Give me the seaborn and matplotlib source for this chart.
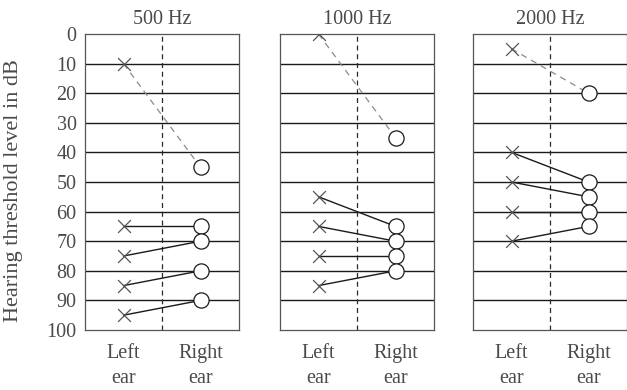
import matplotlib
matplotlib.use("Agg")
import matplotlib.pyplot as plt
import seaborn as sns
import pandas as pd

sns.set_theme(style="white")
plt.rcParams["font.family"] = ["Liberation Serif", "DejaVu Serif"]

freqs = ["500 Hz", "1000 Hz", "2000 Hz"]
left_500 = [10, 65, 75, 85, 95]
right_500 = [45, 65, 70, 80, 90]
left_1000 = [0, 55, 65, 75, 85]
right_1000 = [35, 65, 70, 75, 80]
left_2000 = [5, 40, 50, 60, 70]
right_2000 = [20, 50, 55, 60, 65]
ear_labels = ["Left\near", "Right\near"]
y_ticks = list(range(0, 101, 10))

lefts = [left_500, left_1000, left_2000]
rights = [right_500, right_1000, right_2000]

fig = plt.figure(figsize=(6.27, 3.9), dpi=100)
bottom, height = 1 - 330 / 390, (330 - 34) / 390
lefts_px = [85, 280, 473]
width_px = 154

fs = 14.5
text_col = "#4a4a4a"
for i, freq in enumerate(freqs):
    ax = fig.add_axes([lefts_px[i] / 627, bottom, width_px / 627, height])
    rows = []
    for k, (l, r) in enumerate(zip(lefts[i], rights[i])):
        rows.append({"pair": k, "ear": 0, "db": l})
        rows.append({"pair": k, "ear": 1, "db": r})
    df = pd.DataFrame(rows)
    # grid lines
    for yv in y_ticks[1:-1]:
        ax.axhline(yv, color="#1a1a1a", lw=1.0, zorder=1)
    ax.axvline(0.5, color="#2a2a2a", lw=0.9, ls=(0, (4, 3)), zorder=1)
    for k, sub in df.groupby("pair"):
        if k == 0:
            sns.lineplot(data=sub, x="ear", y="db", ax=ax, color="#8a8a8a",
                         lw=0.9, ls=(0, (5, 4)), zorder=2, legend=False)
        else:
            sns.lineplot(data=sub, x="ear", y="db", ax=ax, color="#1a1a1a",
                         lw=1.0, zorder=2, legend=False)
    sns.scatterplot(data=df[df.ear == 0], x="ear", y="db", ax=ax, marker="x",
                    s=85, color="#555555", linewidth=0.9, zorder=3, legend=False)
    sns.scatterplot(data=df[df.ear == 1], x="ear", y="db", ax=ax, marker="o",
                    s=120, facecolor="white", edgecolor="#1a1a1a", linewidth=0.9,
                    zorder=3, legend=False)
    ax.set_xlim(-0.5, 1.5)
    ax.set_ylim(100, 0)
    ax.set_xticks([0, 1])
    ax.set_xticklabels(ear_labels, fontsize=fs, color=text_col, linespacing=1.45)
    ax.tick_params(axis="x", length=0, pad=10)
    ax.tick_params(axis="y", length=0, pad=6)
    ax.set_xlabel("")
    if i == 0:
        ax.set_yticks(y_ticks)
        ax.set_yticklabels([str(v) for v in y_ticks], fontsize=fs, color=text_col)
        ax.set_ylabel("Hearing threshold level in dB", fontsize=fs + 1.5,
                      color=text_col)
        ax.yaxis.set_label_coords(-0.40, 0.47)
    else:
        ax.set_yticks([])
        ax.set_ylabel("")
    ax.set_title(freq, fontsize=fs, color=text_col, pad=7)
    for sp in ax.spines.values():
        sp.set_visible(True)
        sp.set_color("#555555")
        sp.set_linewidth(0.9)

fig.savefig("out.png", dpi=100)
